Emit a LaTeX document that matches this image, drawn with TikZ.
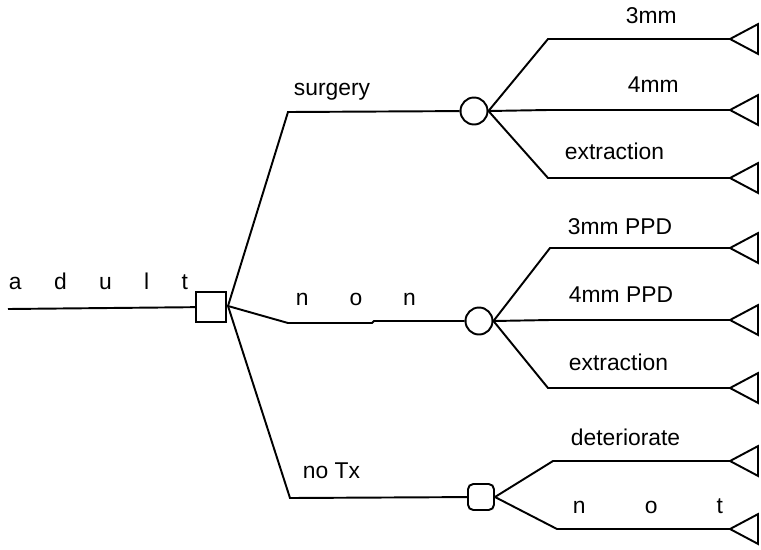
\documentclass[tikz,border=0pt]{standalone}
\usepackage{fontspec}
\setmainfont{Liberation Sans}
\usetikzlibrary{shapes.geometric}
\newcommand{\spaced}[2]{\makebox[#1][s]{#2}}
\begin{document}
\begin{tikzpicture}
  [x=0.02cm,y=-0.02cm,line width=1.1pt,
   decision/.style={draw,rectangle,minimum size=0.6cm,inner sep=0},
   chance/.style={draw,circle,minimum size=0.54cm,inner sep=0},
   chancebox/.style={draw,rectangle,rounded corners=3pt,minimum size=0.52cm,inner sep=0},
   terminal/.style={draw,isosceles triangle,shape border rotate=180,isosceles triangle apex angle=56,
                    minimum height=0.56cm,minimum width=0.56cm,inner sep=0,outer sep=0,anchor=apex},
   lbl/.style={font=\fontsize{13}{15}\selectfont,inner sep=0,anchor=base west}]
    \useasboundingbox (0,0) rectangle (761,549);

    % decision node and its branches
    \coordinate (root) at (8,309);
    \node (d) [decision] at (211,307) {};
    \coordinate (fan) at (228,306);
    \coordinate (sb)  at (288,112);
    \coordinate (nb)  at (288,323);
    \coordinate (ns1) at (372,323);
    \coordinate (ns2) at (374,321);
    \coordinate (tb)  at (290,498);

    % chance nodes
    \node (cs) [chance]    at (474,111) {};
    \node (cn) [chance]    at (479,321) {};
    \node (ct) [chancebox] at (481,497) {};

    % outcome bends
    \coordinate (s1) at (548,39);
    \coordinate (s2) at (548,110);
    \coordinate (s3) at (548,178);
    \coordinate (n1) at (550,248);
    \coordinate (n2) at (550,320);
    \coordinate (n3) at (548,388);
    \coordinate (t1) at (553,461);
    \coordinate (t2) at (557,529);

    % terminal nodes
    \node (es1) [terminal] at (730,39)  {};
    \node (es2) [terminal] at (730,110) {};
    \node (es3) [terminal] at (730,178) {};
    \node (en1) [terminal] at (730,248) {};
    \node (en2) [terminal] at (730,320) {};
    \node (en3) [terminal] at (730,388) {};
    \node (et1) [terminal] at (730,461) {};
    \node (et2) [terminal] at (730,529) {};

    \draw (root) -- (d);
    \draw (fan) -- (sb) -- (cs);
    \draw (fan) -- (nb) -- (ns1) -- (ns2) -- (cn);
    \draw (fan) -- (tb) -- (ct);

    \foreach \from/\via/\to in {cs/s1/es1,cs/s2/es2,cs/s3/es3,cn/n1/en1,cn/n2/en2,cn/n3/en3,ct/t1/et1,ct/t2/et2}
      \draw (\from.east) -- (\via) -- (\to);

    % labels
    \node (ladult) [lbl] at (8,289)   {\spaced{3.58cm}{a\hfill d\hfill u\hfill l\hfill t}};
    \node (lsurg)  [lbl] at (293,95)  {surgery};
    \node (lnon)   [lbl] at (295,305) {\spaced{2.4cm}{n\hfill o\hfill n}};
    \node (lnotx)  [lbl] at (302,478) {no Tx};
    \node (ls1)    [lbl] at (625,23)  {3mm};
    \node (ls2)    [lbl] at (627,92)  {4mm};
    \node (ls3)    [lbl] at (564,159) {extraction};
    \node (ln1)    [lbl] at (567,234) {3mm PPD};
    \node (ln2)    [lbl] at (568,302) {4mm PPD};
    \node (ln3)    [lbl] at (568,370) {extraction};
    \node (lt1)    [lbl] at (570,445) {deteriorate};
    \node (lt2)    [lbl] at (572,513) {\spaced{3.0cm}{n\hfill o\hfill t}};
\end{tikzpicture}
\end{document}
